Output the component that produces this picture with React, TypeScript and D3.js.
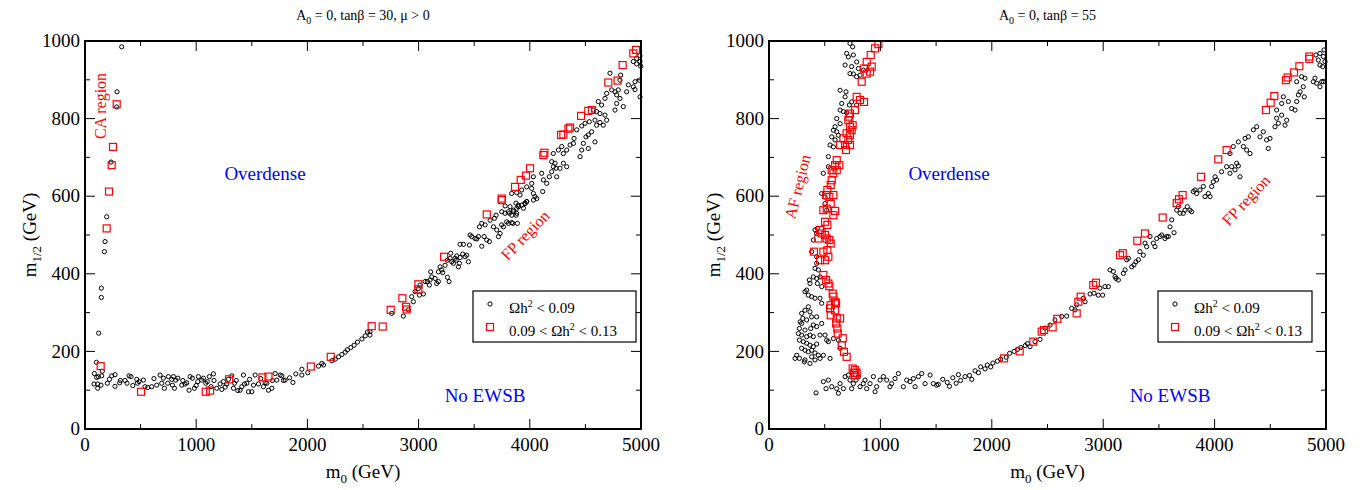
import React from "react";
import * as d3 from "d3";

// ---------------- DATA ----------------
// [m0, m1/2]
const leftBlack: [number, number][] = [
  [330,985],[288,869],[285,830],[234,688],[195,547],[180,483],[174,457],[147,363],[147,339],[123,247],[102,172],[156,149],[84,143],
  [120,135],[150,137],[105,133],[81,116],[114,116],[144,113],[114,105],[201,118],[240,137],[270,140],[318,125],[312,119],[360,125],[378,118],
  [396,137],[414,135],[465,128],[486,122],[471,118],[525,126],[540,109],[564,107],[600,109],[645,113],[675,139],[690,118],[705,131],[714,105],
  [750,135],[744,118],[786,113],[795,135],[816,126],[804,105],[834,131],[870,113],[900,116],[915,119],[936,100],[945,135],[966,131],[984,105],
  [1014,122],[1020,135],[1050,126],[1065,131],[1086,118],[1119,135],[1155,142],[1134,109],[1185,105],[1215,116],[1230,102],[1245,122],[1275,116],
  [1320,137],[1335,105],[1344,118],[1374,99],[1395,100],[1410,109],[1434,116],[1455,118],[1425,139],[1470,96],[1500,96],[1515,113],[1530,139],
  [1560,116],[1605,109],[1620,119],[1635,118],[1686,125],[1710,143],[1680,105],[1725,126],[1755,139],[1770,137],[1785,125],[1800,126],[1896,142],
  [1950,154],[1950,139],[2004,145],[2100,162],[2130,169],[2145,165],[2220,176],
  [220,128],[270,110],[430,112],[620,130],[780,128],[880,125],[1000,112],[1100,122],[1160,125],[1260,108],[1290,128],[1360,125],[1480,128],
  [1580,130],[1650,100],[1840,132],[1870,120],
  [2250,180],[2280,186],[2310,192],[2340,198],[2360,204],[2390,210],[2420,216],[2450,224],[2490,232],[2520,240],[2540,250],
  [2563,251],[2563,242],[2758,298],[2863,291],[2908,307],[2953,328],[2938,341],[2968,354],[3007,345],[3043,348],[2998,362],[3013,371],[3058,380],
  [3079,380],[3097,371],[3103,384],[3118,392],[3109,405],[3148,388],[3163,375],[3178,380],[3178,405],[3193,418],[3208,410],[3217,403],[3238,422],
  [3259,391],[3274,380],[3259,435],[3283,440],[3289,453],[3298,431],[3313,427],[3328,440],[3337,435],[3343,446],[3358,418],[3367,427],[3373,442],
  [3397,451],[3418,444],[3433,448],[3448,431],[3373,476],[3403,476],[3457,474],[3463,500],[3478,496],[3508,491],[3523,490],[3538,496],[3568,471],
  [3589,496],[3613,487],[3637,483],[3547,521],[3568,530],[3598,526],[3643,538],[3673,521],[3682,543],[3697,551],[3703,513],[3718,496],[3733,504],
  [3748,560],[3763,521],[3778,575],[3808,530],[3817,556],[3838,551],[3847,530],[3853,560],[3877,551],[3883,569],[3898,573],[3943,569],[3958,581],
  [3973,586],[4033,590],
  [3747,526],[3792,534],[3837,532],[3888,530],[3777,556],[3807,560],[3852,564],[3882,556],[3822,573],[3876,582],[3897,577],[3927,577],[3957,582],
  [3972,586],[3837,607],[3882,609],[3912,603],[3927,616],[3972,624],[4017,620],[4032,607],[4047,599],[4062,594],[4017,633],[4032,650],[4107,659],
  [4122,642],[4152,633],[4116,612],[4176,650],[4197,663],[4212,676],[4236,672],[4227,685],[4197,689],[4242,650],[4272,672],[4302,685],[4332,676],
  [4212,710],[4257,719],[4287,728],[4302,710],[4332,719],[4362,732],[4392,736],[4398,749],[4452,702],[4467,719],[4482,736],[4505,753],[4526,758],
  [4556,766],[4526,723],[4586,740],[4422,771],[4467,781],[4497,788],[4535,792],[4586,796],[4601,783],[4631,790],[4661,783],[4691,796],[4676,809],
  [4631,813],[4601,818],[4571,822],[4646,835],[4616,844],[4676,852],[4691,865],[4736,874],[4766,869],[4781,861],[4796,874],[4766,822],[4781,839],
  [4811,852],[4841,831],[4871,869],[4886,887],[4931,882],[4946,875],[4946,895],[4721,917],[4817,912],[4811,899],[4931,947],[4961,941],[4991,947],
  [4991,856],[4985,899],[4990,962],[4998,935],[4960,955]
];
const leftRed: [number, number][] = [
  [285,837],[252,727],[240,680],[216,612],[195,517],[141,162],
  [504,96],[1086,96],[1125,99],[1296,128],[1596,133],[1650,135],[2031,161],[2210,186],
  [2578,265],[2677,264],[2749,307],[2854,337],[2887,315],[2893,308],[2998,373],[2998,360],[3229,444],[3613,553],[3748,590],
  [3747,594],[3867,624],[3918,642],[3966,653],[4002,672],[4122,706],[4131,712],[4281,758],[4302,759],[4347,774],[4362,777],[4461,807],
  [4526,820],[4559,822],[4706,893],[4790,898],[4835,938],[4931,968],[4955,977]
];

const rightBlack: [number, number][] = [
  [727,994],[751,985],[697,968],[712,959],[757,964],[683,938],[742,934],[787,946],[802,929],[727,916],[757,915],[787,908],[817,912],[847,925],
  [638,873],[691,869],[683,856],[653,839],[721,835],[742,843],[787,835],[638,822],[668,818],[697,815],[608,800],[638,787],[593,779],[578,770],
  [608,766],[623,757],[563,753],[593,745],[548,732],[578,727],[533,702],[533,676],[488,659],[473,607],[503,598],[503,581],[518,564],[434,517],
  [413,513],[428,504],[398,487],[383,457],[428,444],[428,427],[413,414],[443,410],[458,392],[428,388],[398,392],[362,384],[368,375],[434,375],
  [473,367],[338,358],[323,354],[353,345],[383,341],[413,337],[458,337],[473,324],[353,315],[323,306],[368,302],[383,289],[428,289],[293,298],
  [303,285],[338,281],[279,276],[293,272],[273,259],[323,255],[374,259],[398,268],[428,264],[473,272],[264,246],[293,242],[338,238],[368,242],
  [398,238],[458,242],[503,242],[518,229],[533,225],[273,229],[308,225],[338,221],[368,216],[398,212],[428,219],[293,208],[323,203],[353,199],
  [383,203],[413,196],[443,190],[488,190],[249,190],[234,182],[273,182],[323,178],[383,186],[413,178],[458,182],[548,182],[317,173],[368,169],
  [638,208],[623,229],[578,233],
  [422,93],[488,122],[533,126],[512,104],[563,109],[608,104],[623,92],[638,117],[668,104],[683,135],[712,139],[727,126],[742,104],[757,117],
  [781,126],[802,135],[817,109],[847,117],[862,126],[877,104],[907,117],[937,135],[952,96],[967,109],[997,126],[1027,135],[1057,126],[1086,109],
  [1101,117],[1131,130],[1161,143],[1206,109],[1236,126],[1266,122],[1296,130],[1311,109],[1341,135],[1371,143],[1401,117],[1446,139],[1475,117],
  [1505,113],
  [1520,115],[1560,128],[1600,120],[1620,110],[1650,132],[1680,118],[1700,140],[1720,125],[1760,135],[1800,138],[1820,128],[1850,150],[1880,145],
  [1900,160],[1940,155],[1960,165],[1990,160],[2010,170],[2050,175],[2080,180],[2130,185],[2160,195],[2200,200],[2230,205],[2260,210],[2300,215],
  [2320,220],
  [2343,212],[2388,225],[2433,231],[2478,260],[2523,268],[2567,281],[2627,290],[2672,291],[2717,311],[2747,307],[2762,320],[2822,337],[2837,328],
  [2882,348],[2917,350],[2956,345],[2971,363],[2995,345],[3016,367],[3046,367],[3061,410],[3091,406],[3106,393],[3115,388],[3136,384],[3181,401],
  [3196,410],[3211,436],[3226,440],[3256,418],[3276,423],[3294,431],[3316,436],[3330,457],[3360,448],[3375,479],[3390,470],[3420,496],[3450,479],
  [3465,470],[3480,491],[3510,496],[3525,500],[3555,491],[3570,496],[3585,496],[3600,521],[3615,539],[3636,506],[3660,564],[3674,573],[3690,556],
  [3719,556],[3734,564],[3755,573],[3779,564],[3794,560],[3809,612],[3824,616],[3839,607],[3869,616],[3899,625],[3914,599],[3944,607],[3959,599],
  [3974,625],[3988,637],[4004,650],[4018,642],[4063,663],[4108,676],[4138,659],[4153,676],[4183,668],[4198,685],[4213,678],[4228,650],[4138,710],
  [4168,728],[4213,740],[4258,728],[4273,749],[4288,719],[4318,710],[4303,753],[4348,771],[4378,779],[4408,753],[4437,766],[4467,745],[4482,723],
  [4497,749],[4542,779],[4572,788],[4632,783],[4647,796],[4602,809],[4557,801],[4557,822],[4602,839],[4617,856],[4662,844],[4692,826],[4722,822],
  [4737,844],[4752,861],[4767,869],[4796,882],[4805,856],[4811,904],[4781,908],[4737,895],[4886,895],[4901,904],[4916,891],[4946,882],[4961,895],
  [4946,938],[4931,951],[4910,964],[4946,968],[4976,960],[4982,977],[4970,934],[4976,895],[4991,947]
];
const rightRed: [number, number][] = [
  [982,992],[952,981],[913,964],[877,946],[922,934],[853,929],[877,916],[907,921],[832,895],[787,856],[817,848],[853,843],[772,822],[727,813],
  [721,805],[712,796],[751,783],[727,779],[742,770],[697,762],[727,757],[668,749],[712,745],[638,732],[683,732],[727,732],[691,719],[608,693],
  [593,680],[631,680],[563,667],[608,667],[578,659],[563,641],[554,629],[524,616],[512,603],[542,598],[578,603],[554,581],[518,568],[593,562],
  [578,551],[488,564],[503,534],[524,526],[458,513],[503,500],[473,504],[518,491],[542,487],[554,478],[443,491],[404,457],[488,457],[524,461],
  [503,435],[458,435],[533,444],[488,397],[512,384],[533,375],[542,368],[572,349],[578,341],[593,328],[602,324],[554,319],[548,311],[593,306],
  [554,293],[608,285],[638,285],[602,272],[614,259],[617,246],[662,234],[653,216],[673,199],[697,186],[751,156],[772,152],[763,145],[787,145],
  [772,139],
  [2110,182],[2250,200],
  [2373,225],[2448,251],[2469,255],[2546,262],[2588,284],[2762,298],[2777,328],[2798,341],[2911,371],[2935,377],[3151,448],[3175,453],[3306,485],
  [3375,504],[3534,545],[3660,582],[3680,592],[3713,603],[3878,650],[4033,695],[4108,719],[4461,822],[4503,841],[4536,858],[4641,899],[4656,906],
  [4713,919],[4761,935],[4850,960],[4850,954]
];

const xMajor = [0, 1000, 2000, 3000, 4000, 5000];
const yMajor = [0, 200, 400, 600, 800, 1000];

const FONT = "'Liberation Serif', 'Times New Roman', serif";
const YT = 41, YB = 429;

type Label = { text: string; x: number; y: number; rot: number; color: string; size: number; anchor?: string };

function Panel(props: {
  x0: number; x1: number; titleMain: string; titleRest: string;
  black: [number, number][]; red: [number, number][];
  labels: Label[]; legendX0: number; legendX1: number; ylabelX: number;
}) {
  const { x0, x1, black, red, labels } = props;
  const x = d3.scaleLinear().domain([0, 5000]).range([x0, x1]);
  const y = d3.scaleLinear().domain([0, 1000]).range([YB, YT]);
  const xMinor = d3.range(0, 5001, 500);
  const yMinor = d3.range(0, 1001, 100);
  const cx = (x0 + x1) / 2;
  const lx = props.legendX0;
  return (
    <g fontFamily={FONT}>
      {/* title */}
      <text x={cx} y={20} textAnchor="middle" fontSize={14} fill="#000">
        A<tspan dy={4} fontSize={10}>0</tspan><tspan dy={-4}>{props.titleRest}</tspan>
      </text>
      {/* points */}
      <g clipPath="none">
        {black.map((d, i) => (
          <circle key={"b" + i} cx={x(d[0])} cy={y(d[1])} r={2.1} fill="none" stroke="#000" strokeWidth={1} />
        ))}
        {red.map((d, i) => (
          <rect key={"r" + i} x={x(d[0]) - 3.5} y={y(d[1]) - 3.5} width={7} height={7} fill="none" stroke="#ff0000" strokeWidth={1.2} />
        ))}
      </g>
      {/* ticks */}
      {xMinor.map((v) => {
        const len = v % 1000 === 0 ? 10 : 5;
        return (
          <g key={"xt" + v}>
            <line x1={x(v)} x2={x(v)} y1={YB} y2={YB - len} stroke="#000" strokeWidth={1} />
            <line x1={x(v)} x2={x(v)} y1={YT} y2={YT + len} stroke="#000" strokeWidth={1} />
          </g>
        );
      })}
      {yMinor.map((v) => {
        const len = v % 200 === 0 ? 10 : 5;
        return (
          <g key={"yt" + v}>
            <line x1={x0} x2={x0 + len} y1={y(v)} y2={y(v)} stroke="#000" strokeWidth={1} />
            <line x1={x1} x2={x1 - len} y1={y(v)} y2={y(v)} stroke="#000" strokeWidth={1} />
          </g>
        );
      })}
      <rect x={x0} y={YT} width={x1 - x0} height={YB - YT} fill="none" stroke="#000" strokeWidth={2} />
      {xMajor.map((v) => (
        <text key={"xl" + v} x={x(v)} y={451} textAnchor="middle" fontSize={19}>{v}</text>
      ))}
      {yMajor.map((v) => (
        <text key={"yl" + v} x={x0 - 5} y={y(v)} dy="0.33em" textAnchor="end" fontSize={19}>{v}</text>
      ))}
      {/* axis titles */}
      <text x={cx} y={478} textAnchor="middle" fontSize={19}>
        m<tspan dy={5} fontSize={13}>0</tspan><tspan dy={-5}> (GeV)</tspan>
      </text>
      <text transform={`translate(${props.ylabelX},${(YT + YB) / 2}) rotate(-90)`} textAnchor="middle" fontSize={19}>
        m<tspan dy={5} fontSize={13}>1/2</tspan><tspan dy={-5}> (GeV)</tspan>
      </text>
      {/* region labels */}
      {labels.map((l, i) => (
        <text key={"lab" + i} transform={`translate(${l.x},${l.y}) rotate(${l.rot})`} textAnchor={l.anchor || "middle"}
          fontSize={l.size} fill={l.color}>{l.text}</text>
      ))}
      {/* legend */}
      <rect x={lx} y={291} width={props.legendX1 - lx} height={51} fill="#fff" stroke="#000" strokeWidth={1.2} />
      <circle cx={lx + 17} cy={304} r={2.1} fill="none" stroke="#000" strokeWidth={1} />
      <rect x={lx + 17 - 3.5} y={327 - 3.5} width={7} height={7} fill="none" stroke="#ff0000" strokeWidth={1.2} />
      <text x={lx + 36} y={313} fontSize={15}>
        Ωh<tspan dy={-6} fontSize={10}>2</tspan><tspan dy={6}> {"< 0.09"}</tspan>
      </text>
      <text x={lx + 36} y={336} fontSize={15}>
        {"0.09 < Ωh"}<tspan dy={-6} fontSize={10}>2</tspan><tspan dy={6}> {"< 0.13"}</tspan>
      </text>
    </g>
  );
}

export default function App() {
  return (
    <svg width={1362} height={490} style={{ position: "absolute", left: 0, top: 0, display: "block", background: "#fff" }}>
      <rect x={0} y={0} width={1362} height={490} fill="#fff" />
      <Panel
        x0={85} x1={641} titleMain="A" titleRest=" = 0, tanβ = 30, μ > 0"
        black={leftBlack} red={leftRed} legendX0={473} legendX1={636} ylabelX={36}
        labels={[
          { text: "Overdense", x: 265, y: 180, rot: 0, color: "#0000ff", size: 19 },
          { text: "No EWSB", x: 485, y: 402, rot: 0, color: "#0000ff", size: 19 },
          { text: "CA region", x: 106, y: 106, rot: -90, color: "#ff0000", size: 16 },
          { text: "FP region", x: 529, y: 239, rot: -46, color: "#ff0000", size: 16 },
        ]}
      />
      <Panel
        x0={769} x1={1326} titleMain="A" titleRest=" = 0, tanβ = 55"
        black={rightBlack} red={rightRed} legendX0={1158} legendX1={1312} ylabelX={720}
        labels={[
          { text: "Overdense", x: 949, y: 180, rot: 0, color: "#0000ff", size: 19 },
          { text: "No EWSB", x: 1170, y: 402, rot: 0, color: "#0000ff", size: 19 },
          { text: "AF region", x: 803, y: 188, rot: -76, color: "#ff0000", size: 16 },
          { text: "FP region", x: 1250, y: 204, rot: -47, color: "#ff0000", size: 16 },
        ]}
      />
    </svg>
  );
}
